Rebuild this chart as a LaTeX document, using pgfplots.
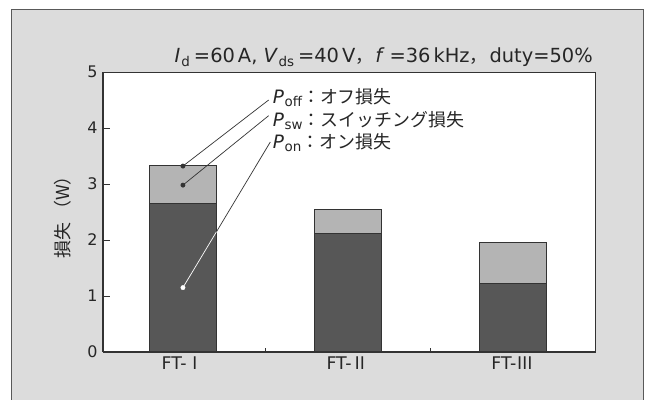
\documentclass[border=0pt]{standalone}
\usepackage{pgfplots}
\pgfplotsset{compat=1.18}
\usepackage{fontspec}
\setmainfont{DejaVu Sans}
\newfontfamily\cjk{Noto Sans CJK JP}
\definecolor{bg}{HTML}{DCDCDC}
\definecolor{darkbar}{HTML}{575757}
\definecolor{lightbar}{HTML}{B4B4B4}
\definecolor{frame}{HTML}{333333}
\newcommand{\tickf}{\fontsize{16}{18}\selectfont}
\newcommand{\catf}{\fontsize{17.5}{18}\selectfont}
\newcommand{\cj}{\cjk\fontsize{18}{18}\selectfont}
\newcommand{\sub}[1]{\raisebox{-0.3ex}{\fontsize{13.5}{13.5}\selectfont #1}}
\begin{document}
\begin{tikzpicture}
\useasboundingbox (0bp,0bp) rectangle (648bp,400bp);
\fill[bg] (11bp,0bp) rectangle (643bp,391bp);
\draw[line width=0.8bp, black!65] (11bp,0bp) -- (11bp,391bp) -- (643bp,391bp) -- (643bp,0bp);
\begin{axis}[
  at={(103bp,48bp)}, anchor=south west,
  scale only axis, width=492bp, height=280bp,
  xmin=-0.485, xmax=2.5, ymin=0, ymax=5,
  ybar stacked, bar width=67bp,
  axis background/.style={fill=white},
  axis line style={draw=frame, line width=0.8bp},
  xtick={0,1,2},
  xticklabels={{\catf FT-{\cjk Ⅰ}},{\catf FT-{\cjk Ⅱ}},{\catf FT-{\cjk Ⅲ}}},
  yticklabels={{\tickf 0},{\tickf 1},{\tickf 2},{\tickf 3},{\tickf 4},{\tickf 5}},
  major x tick style={draw=none},
  minor xtick={0.5,1.5},
  minor tick length=4bp,
  ytick={0,1,2,3,4,5},
  major tick length=7bp,
  tick align=inside, ytick pos=left, xtick pos=bottom,
  tick style={draw=frame, line width=0.8bp},
  yticklabel style={text=black!85, xshift=-2bp},
  xticklabel style={text=black!85, yshift=-1bp},
  every axis plot/.append style={draw=frame, line width=0.8bp},
]
\addplot[fill=darkbar] coordinates {(0,2.65) (1,2.12) (2,1.23)};
\addplot[fill=lightbar] coordinates {(0,0.68) (1,0.43) (2,0.72)};
\end{axis}
\draw[frame, line width=1.8bp] (103bp,48bp) -- (595bp,48bp);
\draw[frame, line width=1.2bp] (103bp,48bp) -- (103bp,328bp);
\begin{axis}[
  at={(103bp,48bp)}, anchor=south west,
  scale only axis, width=492bp, height=280bp,
  xmin=-0.485, xmax=2.5, ymin=0, ymax=5,
  axis lines=none, clip=false,
]
\addplot[white, line width=0.7bp] coordinates {(0,1.15) (0.204,2.15)};
\addplot[frame, line width=0.7bp] coordinates {(0.204,2.15) (0.53,3.75)};
\addplot[frame, line width=0.7bp] coordinates {(0,3.32) (0.52,4.5)};
\addplot[frame, line width=0.7bp] coordinates {(0,2.98) (0.52,4.22)};
\addplot[only marks, mark=*, mark size=2.2bp, frame] coordinates {(0,3.32) (0,2.98)};
\addplot[only marks, mark=*, mark size=2.2bp, white] coordinates {(0,1.15)};
\node[anchor=base west, inner sep=0pt, text=black!85] at (axis cs:0.545,4.43) {\fontsize{18.5}{18}\selectfont\textit{P}\kern0.5bp\sub{off}{\cj ：オフ損失}};
\node[anchor=base west, inner sep=0pt, text=black!85] at (axis cs:0.545,4.03) {\fontsize{18.5}{18}\selectfont\textit{P}\kern0.5bp\sub{sw}{\cj ：スイッチング損失}};
\node[anchor=base west, inner sep=0pt, text=black!85] at (axis cs:0.545,3.63) {\fontsize{18.5}{18}\selectfont\textit{P}\kern0.5bp\sub{on}{\cj ：オン損失}};
\end{axis}
\node[anchor=base east, inner sep=0pt, text=black!85] at (593bp,337bp)
  {\fontsize{19.5}{20}\selectfont\textit{I}\kern1bp\sub{d}\kern4bp=60\kern3bp A, \textit{V}\kern0.5bp\sub{ds}\kern4bp=40\kern3bp V{\cj ，}\kern2bp\textit{f}\kern5bp=36\kern3bp kHz{\cj ，}\kern2bp duty=50\%};
\node[rotate=90, text=black!85] at (63bp,187bp) {\cj 損失 （W）};
\end{tikzpicture}
\end{document}
